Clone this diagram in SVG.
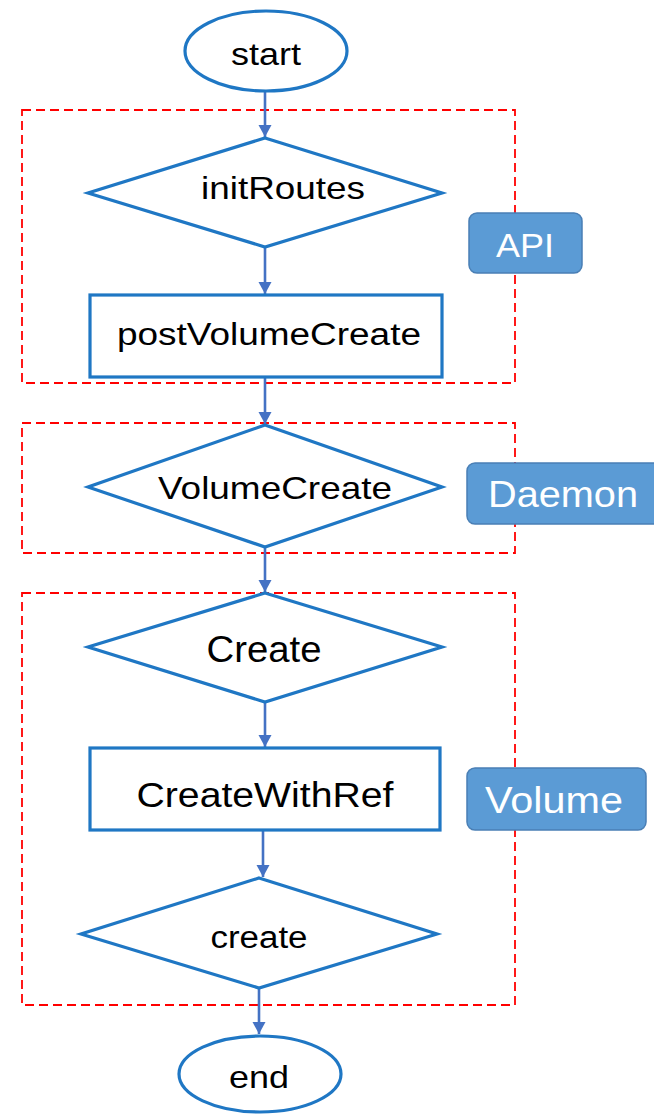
<svg xmlns="http://www.w3.org/2000/svg" width="654" height="1114" viewBox="0 0 654 1114">
<defs>
<marker id="arr" markerUnits="userSpaceOnUse" markerWidth="14" markerHeight="14" viewBox="0 0 14 14" refX="12" refY="7" orient="auto">
<path d="M0,0.5 L12,7 L0,13.5 Z" fill="#4472c4"/>
</marker>
<style>
.grp{fill:none;stroke:#ff0000;stroke-width:1.8;stroke-dasharray:9 5}
.shape{fill:#fff;stroke:#1f77c4;stroke-width:3.2}
.conn{stroke:#4472c4;stroke-width:2.6;fill:none;marker-end:url(#arr)}
.t{font-family:"Liberation Sans",Arial,sans-serif;fill:#000;text-anchor:middle}
.lab{fill:#5b9bd5;stroke:#4a7fb5;stroke-width:1.5}
.lt{font-family:"Liberation Sans",Arial,sans-serif;fill:#fff;text-anchor:middle}
</style>
</defs>
<rect width="654" height="1114" fill="#fff"/>
<g id="groups">
<rect id="grp-api" class="grp" x="22" y="110" width="493" height="273"/>
<rect id="grp-daemon" class="grp" x="22" y="423" width="493" height="130"/>
<rect id="grp-volume" class="grp" x="22" y="593" width="493" height="412"/>
</g>
<g id="connectors">
<line class="conn" x1="265" y1="91" x2="265" y2="137"/>
<line class="conn" x1="265" y1="248" x2="265" y2="294"/>
<line class="conn" x1="265" y1="378" x2="265" y2="424"/>
<line class="conn" x1="265" y1="548" x2="265" y2="592"/>
<line class="conn" x1="265" y1="703" x2="265" y2="747"/>
<line class="conn" x1="263" y1="831" x2="263" y2="877"/>
<line class="conn" x1="259" y1="989" x2="259" y2="1034"/>
</g>
<g id="start">
<ellipse class="shape" cx="266" cy="51" rx="81" ry="40"/>
<text class="t" x="266" y="65" font-size="32" textLength="70" lengthAdjust="spacingAndGlyphs">start</text>
</g>
<g id="initRoutes">
<polygon class="shape" points="265,138 442,193 265,247 88,193"/>
<text class="t" x="283" y="199" font-size="32" textLength="164" lengthAdjust="spacingAndGlyphs">initRoutes</text>
</g>
<g id="postVolumeCreate">
<rect class="shape" x="90" y="295" width="352" height="82"/>
<text class="t" x="269" y="345" font-size="31" textLength="304" lengthAdjust="spacingAndGlyphs">postVolumeCreate</text>
</g>
<g id="VolumeCreate">
<polygon class="shape" points="265,425 442,487 265,547 88,487"/>
<text class="t" x="275" y="499" font-size="32" textLength="234" lengthAdjust="spacingAndGlyphs">VolumeCreate</text>
</g>
<g id="Create">
<polygon class="shape" points="265,593 442,647 265,702 88,647"/>
<text class="t" x="264" y="662" font-size="36" textLength="115" lengthAdjust="spacingAndGlyphs">Create</text>
</g>
<g id="CreateWithRef">
<rect class="shape" x="90" y="748" width="350" height="82"/>
<text class="t" x="265" y="807" font-size="35" textLength="257" lengthAdjust="spacingAndGlyphs">CreateWithRef</text>
</g>
<g id="create">
<polygon class="shape" points="259,878 437,934 259,988 81,934"/>
<text class="t" x="259" y="948" font-size="31" textLength="97" lengthAdjust="spacingAndGlyphs">create</text>
</g>
<g id="end">
<ellipse class="shape" cx="260" cy="1074" rx="81" ry="38"/>
<text class="t" x="259" y="1088" font-size="32" textLength="60" lengthAdjust="spacingAndGlyphs">end</text>
</g>
<g id="label-api">
<rect class="lab" x="469" y="213" width="113" height="60" rx="8"/>
<text class="lt" x="525" y="257" font-size="34" textLength="58" lengthAdjust="spacingAndGlyphs">API</text>
</g>
<g id="label-daemon">
<rect class="lab" x="467" y="463" width="200" height="61" rx="8"/>
<text class="lt" x="563" y="507" font-size="36" textLength="150" lengthAdjust="spacingAndGlyphs">Daemon</text>
</g>
<g id="label-volume">
<rect class="lab" x="467" y="768" width="179" height="62" rx="8"/>
<text class="lt" x="554" y="813" font-size="36" textLength="138" lengthAdjust="spacingAndGlyphs">Volume</text>
</g>
</svg>
